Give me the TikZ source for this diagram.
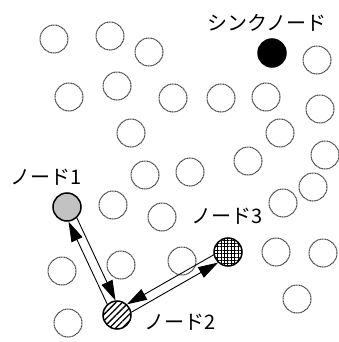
\documentclass[tikz,border=0pt]{standalone}
\usepackage{fontspec}
\newfontfamily\jpfont{Noto Sans CJK JP}
\usetikzlibrary{arrows.meta, patterns.meta, positioning}

\begin{document}
\begin{tikzpicture}[
    x=1pt, y=-1pt,
    every node/.style={color=black},
    sensor/.style={draw=black!75, circle, minimum size=28pt, inner sep=0pt,
                   line width=1pt, dash pattern=on 1.2pt off 0.5pt},
    keynode/.style={draw, circle, minimum size=28pt, inner sep=0pt, line width=1.5pt},
    lbl/.style={font=\jpfont\fontsize{20}{24}\selectfont, inner sep=0pt},
    msg/.style={-{Triangle[length=20pt,width=12pt]}, line width=0.9pt}
]
\useasboundingbox (0,0) rectangle (339,342);

% =========================================================
% ordinary sensor nodes
% =========================================================
\foreach \p [count=\i] in {(54,39),(110,36),(149,52),(317,60),
    (69,97),(117,86),(173,98),(221,98),(266,97),(320,109),
    (131,133),(280,133),(325,155),(248,161),(145,175),(190,172),
    (313,187),(283,203),(113,205),(162,217),(276,252),(323,253),
    (62,271),(121,265),(182,261),(297,299),(68,323)}
    \node[sensor] (c\i) at \p {};

% =========================================================
% sink and relay nodes
% =========================================================
\node[keynode, fill=black] (sink) at (272,53) {};
\node[keynode, fill=black!24] (n1) at (67,207) {};
\node[keynode, pattern={Lines[angle=45,distance=4.5pt,line width=1.3pt]}] (n2) at (117,315) {};
\node[keynode, pattern={Hatch[angle=0,distance=3.4pt,line width=0.9pt]}] (n3) at (228,252) {};

% labels
\node[lbl] (sinklbl) at (267,23) {シンクノード};
\node[lbl] (n1lbl) at (46,177) {ノード1};
\node[lbl] (n2lbl) at (180,322) {ノード2};
\node[lbl] (n3lbl) at (227,216) {ノード3};

% =========================================================
% message exchange (two parallel lanes per link)
% =========================================================
\draw[msg] (n2.132.8) -- (n1.276.8);
\draw[msg] (n1.312.8) -- (n2.96.8);
\draw[msg] (n3.191.6) -- (n2.47.6);
\draw[msg] (n2.11.6) -- (n3.227.6);

\end{tikzpicture}
\end{document}
